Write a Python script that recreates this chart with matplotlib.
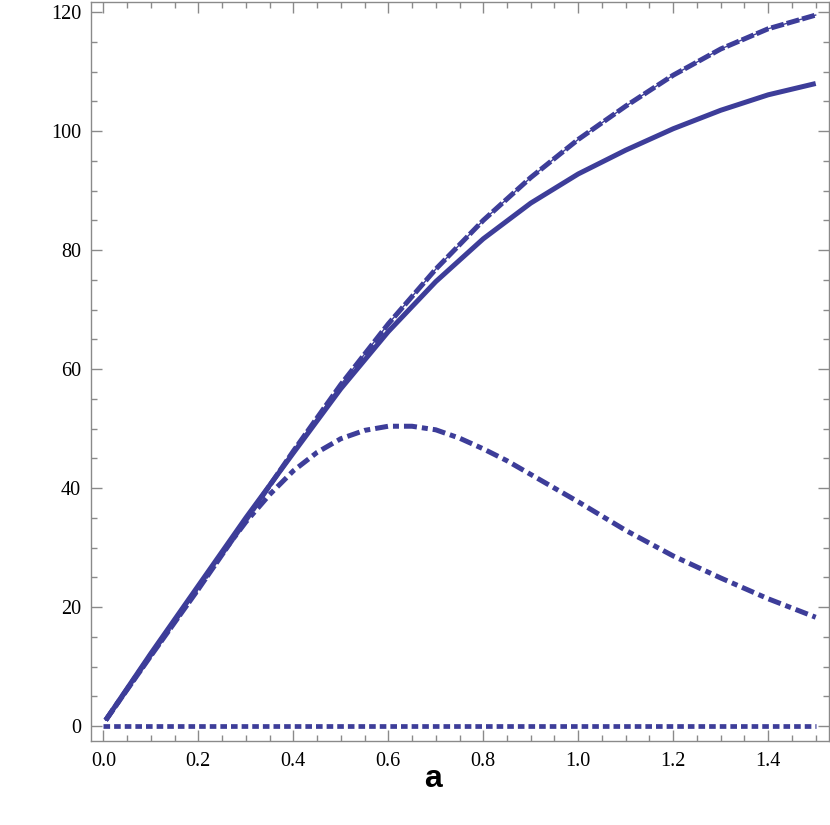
import matplotlib
matplotlib.use("Agg")
import matplotlib.pyplot as plt
from matplotlib.ticker import MultipleLocator

# ---- data ----
x_solid = [0.005, 0.1, 0.2, 0.3, 0.4, 0.5, 0.6, 0.7, 0.8, 0.9, 1.0, 1.1, 1.2, 1.3, 1.4, 1.5]
y_solid = [1.0, 12.2, 23.6, 35.0, 45.9, 56.7, 66.3, 74.7, 81.9, 87.9, 92.8, 96.8, 100.4, 103.5, 106.1, 108.0]

x_dashed = [0.005, 0.1, 0.2, 0.3, 0.4, 0.5, 0.6, 0.7, 0.8, 0.9, 1.0, 1.1, 1.2, 1.3, 1.4, 1.5]
y_dashed = [1.0, 11.8, 23.0, 34.6, 46.2, 57.4, 67.6, 76.8, 85.0, 92.2, 98.6, 104.2, 109.4, 113.8, 117.2, 119.5]

x_dashdot = [0.005, 0.1, 0.2, 0.25, 0.3, 0.35, 0.4, 0.45, 0.5, 0.55, 0.6, 0.65, 0.7, 0.75,
             0.8, 0.85, 0.9, 0.95, 1.0, 1.1, 1.2, 1.3, 1.4, 1.5]
y_dashdot = [1.0, 12.0, 23.3, 29.0, 34.3, 38.9, 42.9, 46.0, 48.3, 49.7, 50.4, 50.4, 49.8, 48.4,
             46.6, 44.6, 42.3, 40.0, 37.7, 32.9, 28.6, 24.9, 21.4, 18.3]

x_dotted = [0.0, 1.5]
y_dotted = [0.0, 0.0]

x_ticks = [0.0, 0.2, 0.4, 0.6, 0.8, 1.0, 1.2, 1.4]
x_ticklabels = ["0.0", "0.2", "0.4", "0.6", "0.8", "1.0", "1.2", "1.4"]
y_ticks = [0, 20, 40, 60, 80, 100, 120]
y_ticklabels = ["0", "20", "40", "60", "80", "100", "120"]
panel_label = "a"

# ---- style ----
color = "#3d3d99"
frame = "#8a8a8a"
lw = 3.6

fig = plt.figure(figsize=(8.30, 8.25), dpi=100)
ax = fig.add_axes([0.1096, 0.1018, 0.8892, 0.8958])

ax.plot(x_solid, y_solid, color=color, lw=lw, solid_capstyle="butt", solid_joinstyle="round")
ax.plot(x_dashed, y_dashed, color=color, lw=1.0)
ax.plot(x_dashed, y_dashed, color=color, lw=lw, dashes=(2.6, 0.6))
ax.plot(x_dashdot, y_dashdot, color=color, lw=lw, dashes=(2.6, 1.0, 1.2, 1.0))
ax.plot(x_dotted, y_dotted, color=color, lw=3.4, dashes=(1.4, 0.85))

ax.set_xlim(-0.026, 1.528)
ax.set_ylim(-2.5, 121.7)

ax.set_xticks(x_ticks)
ax.set_xticklabels(x_ticklabels)
ax.set_yticks(y_ticks)
ax.set_yticklabels(y_ticklabels)
ax.xaxis.set_minor_locator(MultipleLocator(0.05))
ax.yaxis.set_minor_locator(MultipleLocator(5))

for sp in ax.spines.values():
    sp.set_color(frame)
    sp.set_linewidth(1.0)

ax.tick_params(which="both", direction="in", top=True, right=True, color=frame, width=1.0)
ax.tick_params(which="major", length=8)
ax.tick_params(which="minor", length=4.5)
ax.tick_params(axis="x", which="major", pad=8)
ax.tick_params(axis="y", which="major", pad=7)
for lab in ax.get_xticklabels() + ax.get_yticklabels():
    lab.set_fontfamily("Liberation Serif")
    lab.set_fontsize(14.5)
    lab.set_color("black")

fig.text(433 / 830, 1 - 779 / 825, panel_label, ha="center", va="center",
         fontfamily="Liberation Sans", fontweight="bold", fontsize=23)

fig.savefig("out.png", dpi=100)
